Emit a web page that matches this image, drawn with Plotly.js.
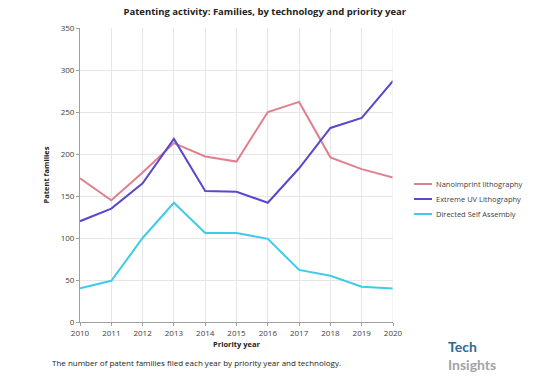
<!DOCTYPE html>
<html><head><meta charset="utf-8">
<script src="https://cdn.plot.ly/plotly-3.0.1.min.js"></script>
<style>html,body{margin:0;padding:0;background:#fff}#c{width:554px;height:380px}</style>
</head><body><div id="c"></div>
<script>
const years = [2010,2011,2012,2013,2014,2015,2016,2017,2018,2019,2020];
const nanoimprint = [171,145,178,213,197,191,250,262,196,182,172];
const euv = [120,135,165,218,156,155,142,183,231,243,287];
const dsa = [40,49,100,142,106,106,99,62,55,42,40];
const seriesNames = ['Nanoimprint lithography','Extreme UV Lithography','Directed Self Assembly'];
const colors = ['#e0808e','#5a48cc','#40cbe8'];
const font = 'Open Sans, Liberation Sans, sans-serif';
const traces = [nanoimprint, euv, dsa].map((v,i)=>({
  x: years, y: v, type:'scatter', mode:'lines', name: seriesNames[i],
  line:{color:colors[i], width:2}
}));
// manual legend in pixel-derived paper coords
const W = 554, H = 380, ml = 80, mr = 161, mt = 28, mb = 58;
const pw = W-ml-mr, ph = H-mt-mb;
const px = x => (x-ml)/pw, py = y => (H-mb-y)/ph;
const legShapes = [], legAnn = [];
seriesNames.forEach((n,i)=>{
  const yy = 184 + 15*i;
  legShapes.push({type:'line', xref:'paper', yref:'paper', x0:px(414), x1:px(432), y0:py(yy), y1:py(yy), line:{color:colors[i], width:2}});
  legAnn.push({text:n, xref:'paper', yref:'paper', x:px(434), y:py(yy), xanchor:'left', yanchor:'middle', showarrow:false, font:{size:7.5, color:'#404040'}});
});
const layout = {
  width:W, height:H,
  margin:{l:ml, r:mr, t:mt, b:mb},
  paper_bgcolor:'#fff', plot_bgcolor:'#fff',
  font:{family:font, size:8, color:'#404040'},
  title:{text:'<b>Patenting activity: Families, by technology and priority year</b>', x:0.478, xanchor:'center', y:0.968, yanchor:'middle', font:{size:9.5, color:'#222', family:font}},
  xaxis:{range:[2010,2020], dtick:1, tickvals:years, showgrid:true, gridcolor:'#e6e6e6', gridwidth:1,
    showline:true, linecolor:'#a0a0a0', linewidth:1, ticks:'outside', ticklen:3, tickcolor:'#a0a0a0',
    zeroline:false, tickfont:{size:8, color:'#404040'}, mirror:false,
    title:{text:'<b>Priority year</b>', font:{size:7.5, color:'#222'}, standoff:5}},
  yaxis:{range:[0,350], dtick:50, showgrid:true, gridcolor:'#e6e6e6', gridwidth:1,
    showline:true, linecolor:'#a0a0a0', linewidth:1, ticks:'outside', ticklen:3, tickcolor:'#a0a0a0',
    zeroline:false, tickfont:{size:8, color:'#404040'},
    title:{text:'<b>Patent families</b>', font:{size:7.5, color:'#222'}, standoff:10}},
  showlegend:false,
  shapes:[{type:'line', xref:'x', yref:'paper', x0:2020, x1:2020, y0:0, y1:1, line:{color:'#e6e6e6', width:1}}].concat(legShapes),
  annotations:[
    {text:'The number of patent families filed each year by priority year and technology.', xref:'paper', yref:'paper', x:px(50), y:py(362), xanchor:'left', yanchor:'middle', showarrow:false, font:{size:8, color:'#222'}},
    {text:'<b><span style="color:#2a6a93">Tech</span><br><span style="color:#a0a4a8">Insights</span></b>', xref:'paper', yref:'paper', x:px(446), y:py(355), xanchor:'left', yanchor:'middle', align:'left', showarrow:false, font:{size:14, family:'Lato, sans-serif'}}
  ].concat(legAnn)
};
Plotly.newPlot('c', traces, layout, {displayModeBar:false, staticPlot:true});
</script></body></html>
